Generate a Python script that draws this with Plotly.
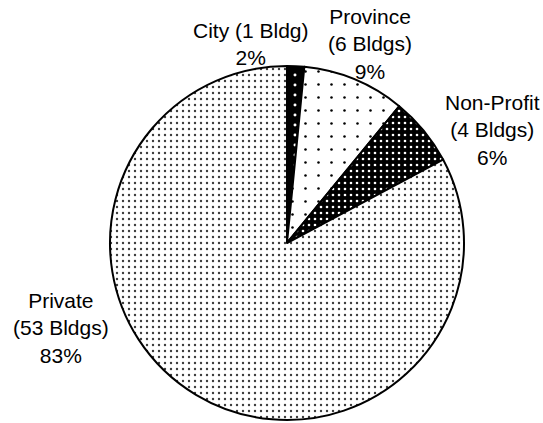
import plotly.graph_objects as go

# Building ownership breakdown
categories = ["City", "Province", "Non-Profit", "Private"]
buildings = [1, 6, 4, 53]

# Fill patterns for each slice (background, dot colour, tile size, solidity)
pattern_bg = ["#000000", "#ffffff", "#000000", "#ffffff"]
pattern_fg = ["#ffffff", "#000000", "#ffffff", "#3a3a3a"]
pattern_size = [10, 13, 6, 6]
pattern_solidity = [0.07, 0.03, 0.15, 0.12]

# Label centres in pixels and whether the name shares a line with the count
label_px = [(251, 44), (370, 44), (492, 130), (61, 328)]
name_inline = [True, False, False, False]

W, H = 543, 423
total = sum(buildings)

fig = go.Figure(
    go.Pie(
        labels=categories,
        values=buildings,
        sort=False,
        direction="clockwise",
        rotation=0,
        textinfo="none",
        hoverinfo="label+value+percent",
        marker=dict(
            colors=pattern_bg,
            line=dict(color="#000000", width=2),
            pattern=dict(
                shape=["."] * len(categories),
                bgcolor=pattern_bg,
                fgcolor=pattern_fg,
                size=pattern_size,
                solidity=pattern_solidity,
                fillmode="replace",
            ),
        ),
        domain=dict(x=[(287 - 177) / W, (287 + 177) / W],
                    y=[1 - 420 / H, 1 - 66 / H]),
        showlegend=False,
    )
)

annotations = []
for name, n, (px, py), inline in zip(categories, buildings, label_px, name_inline):
    pct = round(100 * n / total)
    count = f"({n} Bldg{'s' if n != 1 else ''})"
    sep = " " if inline else "<br>"
    text = f"{name}{sep}{count}<br>{pct}%"
    annotations.append(dict(
        x=px / W, y=1 - py / H, xref="paper", yref="paper",
        xanchor="center", yanchor="middle", showarrow=False,
        text=text, align="center",
        font=dict(family="Liberation Sans, Arial, sans-serif", size=21, color="#000000"),
    ))

fig.update_layout(
    width=W, height=H,
    margin=dict(l=0, r=0, t=0, b=0),
    paper_bgcolor="#ffffff",
    plot_bgcolor="#ffffff",
    annotations=annotations,
)

fig.write_html("out.html")
